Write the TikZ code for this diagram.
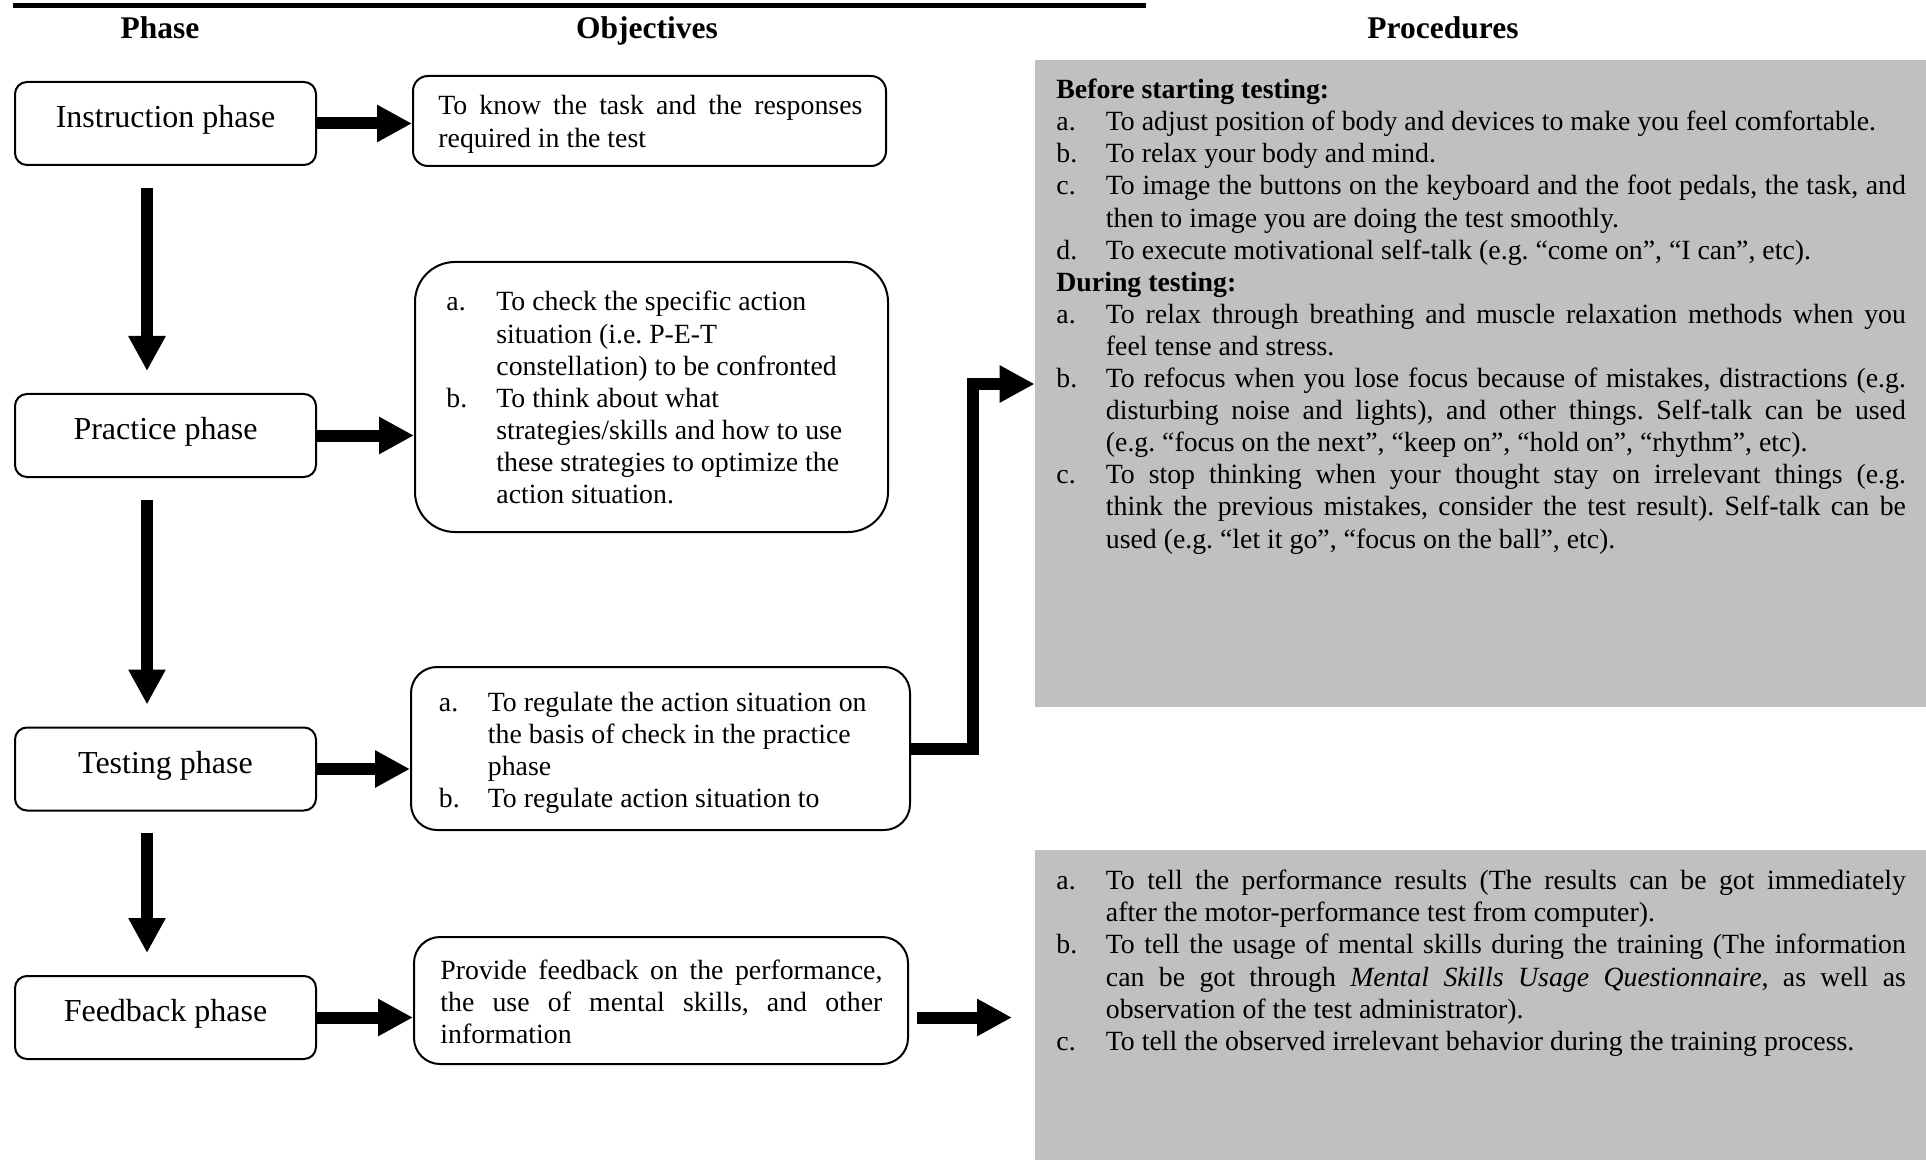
\documentclass[tikz,border=0pt]{standalone}
\usepackage{fontspec}
\setmainfont{Liberation Serif}
\usetikzlibrary{arrows.meta,calc}
\definecolor{procgray}{RGB}{192,192,192}
% a line stretched to a full measure (justified line)
\newcommand\J[2]{\makebox[#1][s]{#2}}
\tikzset{
  phasebox/.style={draw, line width=1pt, rounded corners=6pt,
    minimum width=150.5pt, minimum height=41.5pt, inner sep=0pt,
    text height=11pt, text depth=7pt,
    font=\fontsize{16}{19}\selectfont},
  objbox/.style={draw, line width=1pt, inner sep=0pt},
  graybox/.style={fill=procgray, inner sep=0pt},
  blockarrow/.style={line width=6pt, line join=miter,
    -{Triangle[width=17.5pt,length=17.5pt]}},
  head/.style={font=\fontsize{15.75}{18}\selectfont\bfseries, anchor=base, inner sep=0pt},
  body/.style={font=\fontsize{13.9}{16.05}\selectfont, anchor=base west, inner sep=0pt},
}
\begin{document}
\frenchspacing
\begin{tikzpicture}[x=0.5pt,y=-0.5pt]
\useasboundingbox (0,0) rectangle (1926,1160);

% top rule and column headings
\draw[line width=2.5pt] (13,6) -- (1146,6);
\node[head] (hdphase) at (160,38.5) {Phase};
\node[head] (hdobj) at (647,38.5) {Objectives};
\node[head] (hdproc) at (1443,38.5) {Procedures};

% procedure panels
\node[graybox, minimum width=445.5pt, minimum height=323.5pt] (proc1) at (1480.5,383.5) {};
\node[graybox, minimum width=445.5pt, minimum height=155pt] (proc2) at (1480.5,1005) {};

% phases
\node[phasebox] (instr) at (165.5,123.5) {Instruction phase};
\node[phasebox] (prac) at (165.5,435.5) {Practice phase};
\node[phasebox] (test) at (165.5,769) {Testing phase};
\node[phasebox] (feed) at (165.5,1017.5) {Feedback phase};

% objectives
\node[objbox, rounded corners=7.5pt, minimum width=236.5pt, minimum height=45pt] (obj1) at (649.5,121) {};
\node[objbox, rounded corners=20pt, minimum width=236.5pt, minimum height=135pt] (obj2) at (651.5,397) {};
\node[objbox, rounded corners=13pt, minimum width=249.5pt, minimum height=81.5pt] (obj3) at (660.5,748.5) {};
\node[objbox, rounded corners=13pt, minimum width=247pt, minimum height=63.5pt] (obj4) at (661,1000.5) {};

\node[body] (obj1txt) at (438,115) {\begin{tabular}[t]{@{}l@{}}
\J{212pt}{To know the task and the responses}\\
required in the test
\end{tabular}};

\node[body] (obj2txt) at (446,311) {\begin{tabular}[t]{@{}p{25pt}@{}l@{}}
a. & To check the specific action\\
   & situation (i.e. P-E-T\\
   & constellation) to be confronted\\
b. & To think about what\\
   & strategies/skills and how to use\\
   & these strategies to optimize the\\
   & action situation.
\end{tabular}};

\node[body] (obj3txt) at (438.5,711.5) {\begin{tabular}[t]{@{}p{24.5pt}@{}l@{}}
a. & To regulate the action situation on\\
   & the basis of check in the practice\\
   & phase\\
b. & To regulate action situation to
\end{tabular}};

\node[body] (obj4txt) at (440,979) {\begin{tabular}[t]{@{}l@{}}
\J{221pt}{Provide feedback on the performance,}\\
\J{221pt}{the use of mental skills, and other}\\
information
\end{tabular}};

% procedures
\node[body] (proc1txt) at (1056,98.7) {\begin{tabular}[t]{@{}p{24.75pt}@{}l@{}}
\multicolumn{2}{@{}l@{}}{\bfseries Before starting testing:}\\
a. & To adjust position of body and devices to make you feel comfortable.\\
b. & To relax your body and mind.\\
c. & \J{400pt}{To image the buttons on the keyboard and the foot pedals, the task, and}\\
   & then to image you are doing the test smoothly.\\
d. & To execute motivational self-talk (e.g. “come on”, “I can”, etc).\\
\multicolumn{2}{@{}l@{}}{\bfseries During testing:}\\
a. & \J{400pt}{To relax through breathing and muscle relaxation methods when you}\\
   & feel tense and stress.\\
b. & \J{400pt}{To refocus when you lose focus because of mistakes, distractions (e.g.}\\
   & \J{400pt}{disturbing noise and lights), and other things. Self-talk can be used}\\
   & (e.g. “focus on the next”, “keep on”, “hold on”, “rhythm”, etc).\\
c. & \J{400pt}{To stop thinking when your thought stay on irrelevant things (e.g.}\\
   & \J{400pt}{think the previous mistakes, consider the test result). Self-talk can be}\\
   & used (e.g. “let it go”, “focus on the ball”, etc).
\end{tabular}};

\node[body] (proc2txt) at (1056,889.7) {\begin{tabular}[t]{@{}p{24.75pt}@{}l@{}}
a. & \J{400pt}{To tell the performance results (The results can be got immediately}\\
   & after the motor-performance test from computer).\\
b. & \J{400pt}{To tell the usage of mental skills during the training (The information}\\
   & \J{400pt}{can be got through \textit{Mental Skills Usage Questionnaire}, as well as}\\
   & observation of the test administrator).\\
c. & To tell the observed irrelevant behavior during the training process.
\end{tabular}};

% phase sequence
\draw[blockarrow] ([shift={(-18.5,22)}]instr.south) -- ([shift={(-18.5,-22)}]prac.north);
\draw[blockarrow] ([shift={(-18.5,22)}]prac.south) -- ([shift={(-18.5,-22)}]test.north);
\draw[blockarrow] ([shift={(-18.5,21)}]test.south) -- ([shift={(-18.5,-22)}]feed.north);

% phase to objectives
\draw[blockarrow] (instr.east) -- (instr.east -| obj1.west);
\draw[blockarrow] (prac.east) -- (prac.east -| obj2.west);
\draw[blockarrow] (test.east) -- (test.east -| obj3.west);
\draw[blockarrow] (feed.east) -- (feed.east -| obj4.west);

% objectives to procedures
\coordinate (elb) at (973,384);
\draw[blockarrow] (obj3.east) -| (elb) -- (elb -| proc1.west);
\coordinate (fbend) at (1012,1017.5);
\draw[blockarrow] ($(obj4.east |- feed.east)+(8,0)$) -- (fbend);
\end{tikzpicture}
\end{document}
